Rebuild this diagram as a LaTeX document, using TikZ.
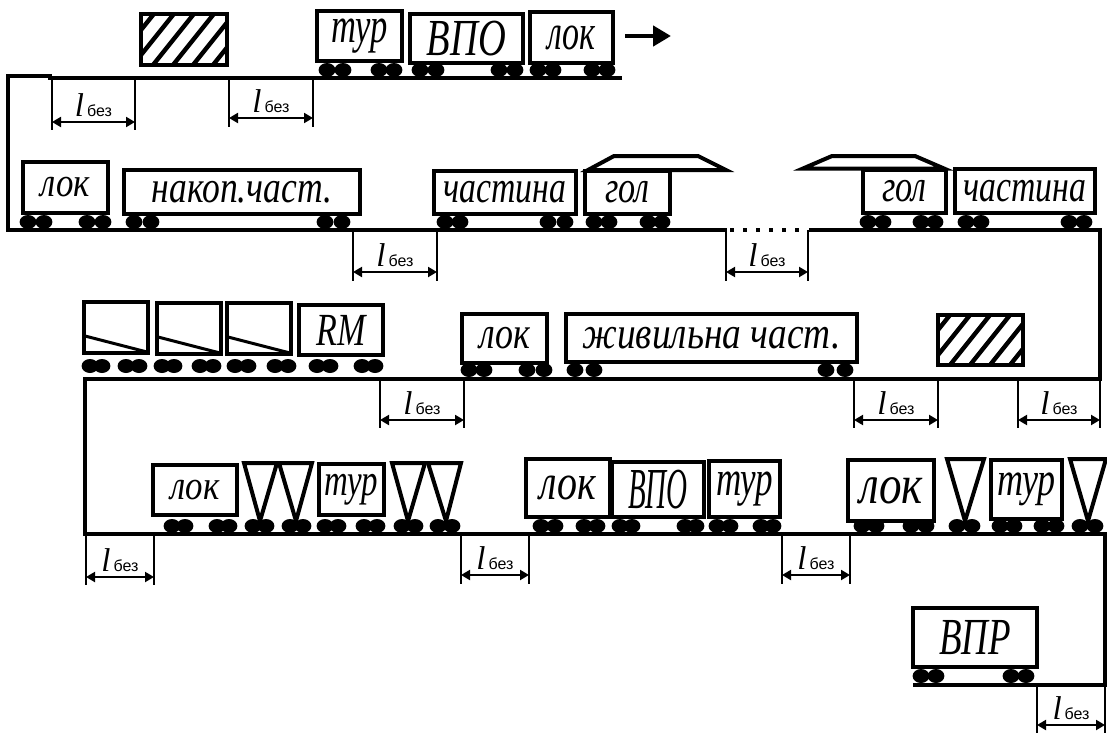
\documentclass[tikz,border=0pt]{standalone}
\usepackage{fontspec}
\usepackage{graphicx}
\setmainfont{Liberation Serif}
\newfontfamily\lblsans{Liberation Sans}
\usetikzlibrary{arrows.meta,patterns}
\tikzset{
  boxline/.style={draw=black,line width=4pt,fill=white,miter limit=10},
  track/.style={draw=black,line width=3.6pt},
  extline/.style={draw=black,line width=1.8pt},
  dimarrow/.style={draw=black,line width=2pt,{Stealth[length=9pt,width=10pt,inset=0pt]}-{Stealth[length=9pt,width=10pt,inset=0pt]}},
  dimlabel/.style={inner sep=0pt,anchor=south,yshift=4pt},
  wheel/.style={fill=black},
  hatchline/.style={draw=black,line width=4.4pt},
  tri/.style={draw=black,line width=4pt,fill=white,miter limit=10},
  roof/.style={draw=black,line width=4pt,miter limit=10,line join=miter,fill=white},
}
\newcommand{\wagonbox}[8]{% name x1 y1 x2 y2 text size xscale
  \draw[boxline] (#2,#3) rectangle (#4,#5);
  \node[inner sep=0pt] (#1) at ({(#2+#4)/2},{(#3+#5)/2}) {\fontsize{#7}{#7}\selectfont\itshape\scalebox{#8}[1]{#6}};
}
\newcommand{\wheels}[2]{\foreach \wx in {#2} \fill[wheel] (\wx,#1) ellipse (8.4pt and 7pt);}
\newcommand{\gap}[6]{% name x1 x2 ytrack yend yarrow
  \coordinate (#1a) at (#2,#4); \coordinate (#1b) at (#3,#4);
  \coordinate (#1c) at (#2,#5); \coordinate (#1d) at (#3,#5);
  \coordinate (#1e) at (#2,#6); \coordinate (#1f) at (#3,#6);
  \draw[extline] (#1a) -- (#1c);
  \draw[extline] (#1b) -- (#1d);
  \draw[dimarrow] (#1e) -- node[dimlabel] (#1l) {\fontsize{33}{33}\selectfont\itshape l\hspace{3pt}{\fontsize{16}{16}\selectfont\upshape\lblsans без}} (#1f);
}
\newcommand{\hatchbox}[4]{% x1 y1 x2 y2
  \begin{scope}
    \clip (#1,#2) rectangle (#3,#4);
    \foreach \hh in {0,1,...,7} {
      \draw[hatchline] ({#1-28+\hh*20},#4) -- ({#1-28+\hh*20+(#4-#2)*.8},#2);
    }
  \end{scope}
  \draw[draw=black,line width=4pt] (#1,#2) rectangle (#3,#4);
}
\begin{document}
\begin{tikzpicture}[x=1pt,y=-1pt]
\useasboundingbox (0,0) rectangle (1107,733);
% tracks
\draw[track] (622,78) -- (50,78) -- (50,76) -- (8,76) -- (8,230) -- (727,230);
\draw[track,dash pattern=on 4pt off 9pt] (730,230) -- (806,230);
\draw[track] (809,230) -- (1100,230) -- (1100,379) -- (85,379) -- (85,534) -- (1105,534) -- (1105,685) -- (913,685);
% row 1
\hatchbox{141}{14}{227}{65}
\wagonbox{t1}{317}{11}{402}{61}{тур}{50}{.69}
\wagonbox{v1}{410}{14}{523}{63}{ВПО}{52}{.74}
\wagonbox{l1}{530}{12}{613}{63}{лок}{50}{.68}
\wheels{70}{327,343,379,394,420,436,499,515,538,553,592,607}
\draw[line width=4.5pt,-{Stealth[length=18pt,width=20pt,inset=0pt]}] (625,36) -- (671,36);
\gap{a}{52}{135}{78}{130}{122}
\gap{b}{229}{313}{78}{127}{118}
% row 2
\wagonbox{l2}{23}{162}{108}{213}{лок}{41}{.85}
\wagonbox{n2}{124}{170}{360}{214}{накоп.част.}{45}{.79}
\wheels{222}{28,44,87,103,134,151,325,342}
\wagonbox{c2}{434}{171}{576}{214}{частина}{45}{.75}
\wagonbox{g2}{585}{171}{670}{214}{гол}{45}{.76}
\draw[roof] (588,170) -- (614,156) -- (698,156) -- (726,170) -- cycle;
\wheels{222}{445,460,548,565,594,609,648,662}
\wagonbox{g3}{863}{170}{946}{213}{гол}{45}{.76}
\wagonbox{c3}{955}{169}{1095}{213}{частина}{45}{.75}
\draw[roof] (803,168.5) -- (832,156) -- (915,156) -- (944,168.5) -- cycle;
\wheels{222}{868,883,921,935,966,981,1069,1084}
\gap{c}{353}{437}{230}{281}{272}
\gap{d}{726}{808}{230}{281}{272}
% row 3
\draw[boxline] (84,302) rectangle (148,353);
\draw[boxline] (157,303) rectangle (221,354);
\draw[boxline] (227,303) rectangle (291,354);
\draw[line width=3pt] (85,336) -- (147,352);
\draw[line width=3pt] (158,337) -- (220,353);
\draw[line width=3pt] (228,337) -- (290,353);
\wagonbox{r3}{299}{305}{383}{355}{RM}{46}{.74}
\wheels{366}{90,102,126,139,162,174,200,213,235,248,275,288,317,330,362,375}
\wagonbox{l3}{462}{314}{547}{363}{лок}{45}{.8}
\wagonbox{z3}{566}{314}{857}{362}{живильна част.}{45}{.83}
\wheels{370}{469,484,527,544,575,594,826,845}
\hatchbox{938}{315}{1023}{365}
\gap{e}{380}{464}{379}{428}{420}
\gap{f}{854}{938}{379}{428}{420}
\gap{g}{1018}{1100}{379}{428}{420}
% row 4
\wagonbox{l4}{153}{465}{237}{515}{лок}{41}{.85}
\draw[tri] (244,463) -- (277,463) -- (260,521) -- cycle;
\draw[tri] (279,463) -- (312,463) -- (296,521) -- cycle;
\wagonbox{t4}{319}{464}{384}{515}{тур}{45}{.73}
\draw[tri] (392,463) -- (425,463) -- (408,521) -- cycle;
\draw[tri] (428,463) -- (461,463) -- (446,521) -- cycle;
\wheels{526}{172,185,217,229,253,266,290,303,325,338,364,377,402,415,438,452}
\wagonbox{l5}{526}{459}{610}{517}{лок}{50}{.8}
\wagonbox{v5}{612}{462}{704}{517}{ВПО}{58}{.5}
\wagonbox{t5}{709}{461}{780}{517}{тур}{50}{.7}
\wheels{526}{541,555,584,597,620,632,685,696,717,730,761,773}
\wagonbox{l6}{848}{460}{934}{521}{лок}{55}{.82}
\draw[tri] (947,459) -- (984,459) -- (965,521) -- cycle;
\wagonbox{t6}{991}{460}{1062}{519}{тур}{48}{.75}
\draw[tri] (1070,459) -- (1106,459) -- (1088,521) -- cycle;
\wheels{526}{862,876,911,926,957,972,1000,1014,1042,1056,1080,1095}
\gap{h}{86}{154}{534}{585}{577}
\gap{i}{461}{529}{534}{584}{575}
\gap{j}{782}{850}{534}{584}{575}
% bottom
\wagonbox{v7}{913}{608}{1037}{667}{ВПР}{52}{.71}
\wheels{676}{921,936,1011,1026}
\gap{k}{1037}{1105}{685}{733}{725}
\end{tikzpicture}
\end{document}
